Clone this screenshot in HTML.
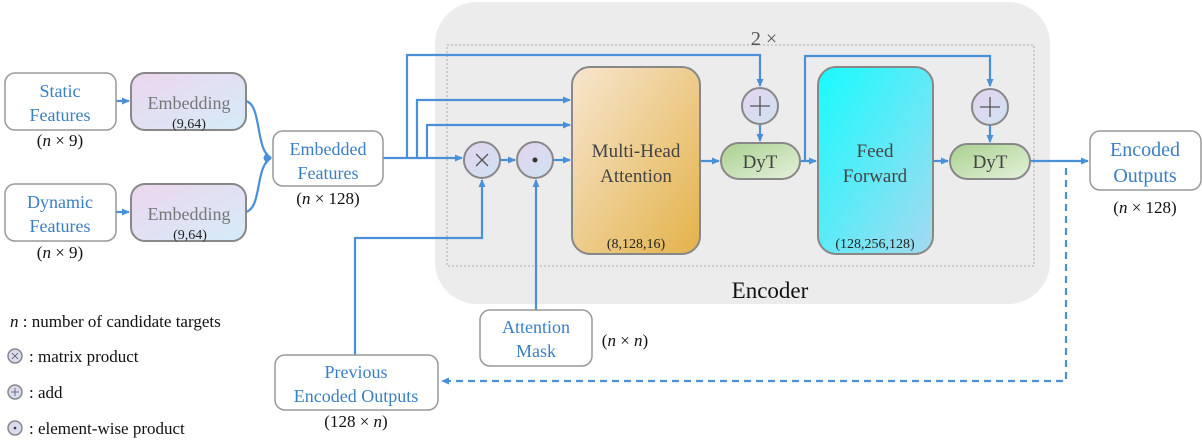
<!DOCTYPE html>
<html><head><meta charset="utf-8"><style>
body{margin:0;background:#fff;}
svg text{font-family:"Liberation Serif",serif;}
</style></head><body>
<svg width="1202" height="443" viewBox="0 0 1202 443" xmlns="http://www.w3.org/2000/svg">
<defs>
<linearGradient id="emb" x1="0" y1="0" x2="1" y2="1"><stop offset="0" stop-color="#ecd6ee"/><stop offset="1" stop-color="#d6ecf8"/></linearGradient>
<linearGradient id="mha" x1="0" y1="0" x2="1" y2="1"><stop offset="0" stop-color="#f7e6cf"/><stop offset="1" stop-color="#e3b24a"/></linearGradient>
<linearGradient id="ff" x1="0" y1="0" x2="1" y2="1"><stop offset="0" stop-color="#17fbfe"/><stop offset="1" stop-color="#a6d9f0"/></linearGradient>
<linearGradient id="dyt" x1="0" y1="0" x2="1" y2="1"><stop offset="0" stop-color="#a9d08e"/><stop offset="1" stop-color="#e5f1dc"/></linearGradient>
<linearGradient id="circ" x1="0" y1="0" x2="1" y2="1"><stop offset="0" stop-color="#e4d4ee"/><stop offset="1" stop-color="#cfe2f2"/></linearGradient>
<marker id="ar" markerWidth="8" markerHeight="8" refX="7" refY="4" orient="auto" markerUnits="userSpaceOnUse"><path d="M0,0.5 L8,4 L0,7.5z" fill="#4a90d9"/></marker>
</defs>
<rect x="435" y="2" width="615" height="302" rx="42" fill="#ececec"/>
<rect x="447" y="45" width="587" height="221" fill="none" stroke="#999" stroke-width="0.8" stroke-dasharray="2,2"/>
<text x="764" y="45" font-size="20" fill="#555" text-anchor="middle">2 ×</text>
<text x="770" y="298" font-size="23" fill="#111" text-anchor="middle">Encoder</text>

<g fill="none" stroke="#4a90d9" stroke-width="2.2">
<path d="M116,101 H129" marker-end="url(#ar)"/>
<path d="M116,212 H129" marker-end="url(#ar)"/>
<path d="M246,101 C262,105 255,150 271,158" marker-end="url(#ar)"/>
<path d="M246,212 C262,208 255,166 271,158" marker-end="url(#ar)"/>
<path d="M383,158 H462" marker-end="url(#ar)"/>
<path d="M407,158 V55 H760 V86" marker-end="url(#ar)"/>
<path d="M417,158 V100 H570" marker-end="url(#ar)"/>
<path d="M427,158 V125 H570" marker-end="url(#ar)"/>
<path d="M500,160 H515" marker-end="url(#ar)"/>
<path d="M553,160 H570" marker-end="url(#ar)"/>
<path d="M700,161 H719" marker-end="url(#ar)"/>
<path d="M760,124 V141" marker-end="url(#ar)"/>
<path d="M800,161 H816" marker-end="url(#ar)"/>
<path d="M805,161 V56 H990 V86" marker-end="url(#ar)"/>
<path d="M990,124 V142" marker-end="url(#ar)"/>
<path d="M932,161 H948" marker-end="url(#ar)"/>
<path d="M1030,161 H1088" marker-end="url(#ar)"/>
<path d="M355,355 V238 H482 V180" marker-end="url(#ar)"/>
<path d="M536,310 V180" marker-end="url(#ar)"/>
<path d="M1066,168 V381 H442" stroke-dasharray="7,5" marker-end="url(#ar)"/>
</g>

<g stroke="#999" stroke-width="1.5">
<rect x="5" y="73" width="111" height="57" rx="10" fill="#fff"/>
<rect x="5" y="184" width="111" height="57" rx="10" fill="#fff"/>
<rect x="131" y="73" width="115" height="57" rx="14" fill="url(#emb)" stroke="#888" stroke-width="2"/>
<rect x="131" y="184" width="115" height="57" rx="14" fill="url(#emb)" stroke="#888" stroke-width="2"/>
<rect x="273" y="131" width="110" height="55" rx="10" fill="#fff"/>
<rect x="1090" y="131" width="111" height="59" rx="10" fill="#fff"/>
<rect x="275" y="355" width="163" height="55" rx="10" fill="#fff"/>
<rect x="480" y="310" width="112" height="56" rx="10" fill="#fff"/>
<rect x="572" y="67" width="128" height="187" rx="18" fill="url(#mha)" stroke="#888" stroke-width="2"/>
<rect x="818" y="67" width="115" height="187" rx="18" fill="url(#ff)" stroke="#888" stroke-width="2"/>
<rect x="721" y="143" width="79" height="36" rx="18" fill="url(#dyt)" stroke="#888" stroke-width="2"/>
<rect x="950" y="144" width="80" height="35" rx="17.5" fill="url(#dyt)" stroke="#888" stroke-width="2"/>
<circle cx="482" cy="160" r="18" fill="url(#circ)" stroke="#888" stroke-width="2"/>
<circle cx="535" cy="160" r="18" fill="url(#circ)" stroke="#888" stroke-width="2"/>
<circle cx="760" cy="106" r="18" fill="url(#circ)" stroke="#888" stroke-width="2"/>
<circle cx="990" cy="107" r="18" fill="url(#circ)" stroke="#888" stroke-width="2"/>
<circle cx="15" cy="356" r="7" fill="url(#circ)" stroke="#888"/>
<circle cx="15" cy="392" r="7" fill="url(#circ)" stroke="#888"/>
<circle cx="15" cy="428" r="7" fill="url(#circ)" stroke="#888"/>
</g>
<g stroke="#555" stroke-width="1.3">
<path d="M476,154 L488,166 M488,154 L476,166"/>
<path d="M760,96 V116 M750,106 H770"/>
<path d="M990,97 V117 M980,107 H1000"/>
<path d="M12,353 L18,359 M18,353 L12,359" stroke-width="0.8"/>
<path d="M15,388 V396 M11,392 H19" stroke-width="0.8"/>
</g>
<circle cx="535" cy="160" r="2.5" fill="#333"/>
<circle cx="15" cy="428" r="1.3" fill="#333"/>

<g font-size="18" fill="#3a7fc4" text-anchor="middle">
<text x="60" y="97">Static</text><text x="60" y="121">Features</text>
<text x="60" y="208">Dynamic</text><text x="60" y="232">Features</text>
<text x="328" y="155">Embedded</text><text x="328" y="179">Features</text>
<text x="536" y="333">Attention</text><text x="536" y="357">Mask</text>
<text x="356" y="378">Previous</text><text x="356" y="402">Encoded Outputs</text>
<text x="1145" y="156" font-size="20">Encoded</text><text x="1145" y="182" font-size="20">Outputs</text>
</g>
<g font-size="18" fill="#777" text-anchor="middle">
<text x="189" y="109">Embedding</text><text x="189" y="220">Embedding</text>
</g>
<g font-size="14" fill="#222" text-anchor="middle">
<text x="189" y="128">(9,64)</text>
<text x="190" y="239">(9,64)</text>
<text x="636" y="248">(8,128,16)</text>
<text x="875" y="248">(128,256,128)</text>
</g>
<g font-size="19" fill="#444" text-anchor="middle">
<text x="636" y="157">Multi-Head</text><text x="636" y="182">Attention</text>
<text x="875" y="157">Feed</text><text x="875" y="182">Forward</text>
<text x="760" y="168">DyT</text><text x="990" y="168">DyT</text>
</g>
<g font-size="17" fill="#111" text-anchor="middle">
<text x="60" y="146">(<tspan font-style="italic">n</tspan> × 9)</text>
<text x="60" y="258">(<tspan font-style="italic">n</tspan> × 9)</text>
<text x="328" y="204">(<tspan font-style="italic">n</tspan> × 128)</text>
<text x="1145" y="213">(<tspan font-style="italic">n</tspan> × 128)</text>
<text x="356" y="427">(128 × <tspan font-style="italic">n</tspan>)</text>
<text x="625" y="346">(<tspan font-style="italic">n</tspan> × <tspan font-style="italic">n</tspan>)</text>
</g>
<g font-size="17" fill="#111">
<text x="10" y="327"><tspan font-style="italic">n</tspan> : number of candidate targets</text>
<text x="29" y="362">: matrix product</text>
<text x="29" y="398">: add</text>
<text x="29" y="434">: element-wise product</text>
</g>
</svg>
</body></html>
